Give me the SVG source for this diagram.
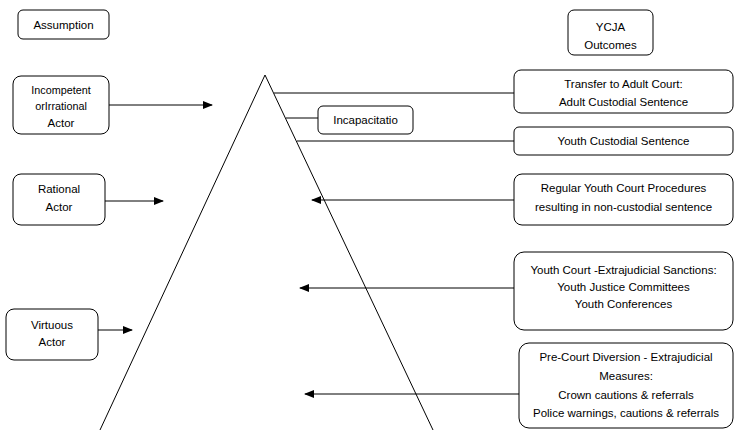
<svg xmlns="http://www.w3.org/2000/svg" width="737" height="430" viewBox="0 0 737 430">
<defs>
<marker id="ah" markerWidth="10" markerHeight="8" refX="9" refY="4" orient="auto" markerUnits="userSpaceOnUse">
<path d="M0,0 L10,4 L0,8 Z" fill="#000"/>
</marker>
<style>
.box{fill:#fff;stroke:#000;stroke-width:1}
.t{font-family:"Liberation Sans",Arial,sans-serif;font-size:11.5px;fill:#000;text-anchor:middle}
.s{font-size:10.8px}
.ln{stroke:#000;stroke-width:1;fill:none}
.ar{stroke:#000;stroke-width:1;fill:none;marker-end:url(#ah)}
</style>
</defs>
<rect width="737" height="430" fill="#fff"/>
<g id="triangle">
<path class="ln" d="M100,430 L265,75 L433,430"/>
</g>
<g id="connectors">
<line class="ar" x1="109" y1="105" x2="212" y2="105"/>
<line class="ar" x1="105" y1="201" x2="163" y2="201"/>
<line class="ar" x1="98" y1="330" x2="132" y2="330"/>
<line class="ln" x1="274" y1="93" x2="515" y2="93"/>
<line class="ln" x1="286" y1="118" x2="318" y2="118"/>
<line class="ln" x1="297" y1="141" x2="515" y2="141"/>
<line class="ar" x1="514" y1="200" x2="312" y2="200"/>
<line class="ar" x1="514" y1="288" x2="300" y2="288"/>
<line class="ar" x1="519" y1="394" x2="305" y2="394"/>
</g>
<g id="assumption">
<rect class="box" x="18" y="10" width="91" height="29" rx="5"/>
<text class="t" x="63.5" y="29">Assumption</text>
</g>
<g id="incompetent">
<rect class="box" x="13" y="76" width="96" height="58" rx="8"/>
<text class="t s" x="61" y="94">Incompetent</text>
<text class="t s" x="61" y="110">orIrrational</text>
<text class="t" x="61" y="127">Actor</text>
</g>
<g id="rational">
<rect class="box" x="13" y="174" width="92" height="51" rx="8"/>
<text class="t" x="59" y="193">Rational</text>
<text class="t" x="59" y="211">Actor</text>
</g>
<g id="virtuous">
<rect class="box" x="6" y="309" width="92" height="51" rx="8"/>
<text class="t" x="52" y="329">Virtuous</text>
<text class="t" x="52" y="346">Actor</text>
</g>
<g id="incapacitation">
<rect class="box" x="318" y="106" width="95" height="28" rx="5"/>
<text class="t" x="365.5" y="124">Incapacitatio</text>
</g>
<g id="ycja">
<rect class="box" x="568" y="10" width="85" height="45" rx="6"/>
<text class="t" x="610.5" y="31">YCJA</text>
<text class="t" x="610.5" y="49">Outcomes</text>
</g>
<g id="transfer">
<rect class="box" x="514" y="70" width="219" height="43" rx="7"/>
<text class="t" x="623.5" y="88">Transfer to Adult Court:</text>
<text class="t" x="623.5" y="106">Adult Custodial Sentence</text>
</g>
<g id="youth-custodial">
<rect class="box" x="514" y="127" width="219" height="28" rx="5"/>
<text class="t" x="623.5" y="145">Youth Custodial Sentence</text>
</g>
<g id="regular">
<rect class="box" x="514" y="174" width="219" height="51" rx="8"/>
<text class="t" x="623.5" y="192">Regular Youth Court Procedures</text>
<text class="t" x="623.5" y="211">resulting in non-custodial sentence</text>
</g>
<g id="youth-court">
<rect class="box" x="514" y="252" width="219" height="78" rx="10"/>
<text class="t" x="623.5" y="274">Youth Court -Extrajudicial Sanctions:</text>
<text class="t" x="623.5" y="291">Youth Justice Committees</text>
<text class="t" x="623.5" y="308">Youth Conferences</text>
</g>
<g id="pre-court">
<rect class="box" x="519" y="343" width="214" height="85" rx="10"/>
<text class="t" x="626" y="361">Pre-Court Diversion - Extrajudicial</text>
<text class="t" x="626" y="380">Measures:</text>
<text class="t" x="626" y="399">Crown cautions &amp; referrals</text>
<text class="t" x="626" y="417">Police warnings, cautions &amp; referrals</text>
</g>
</svg>
